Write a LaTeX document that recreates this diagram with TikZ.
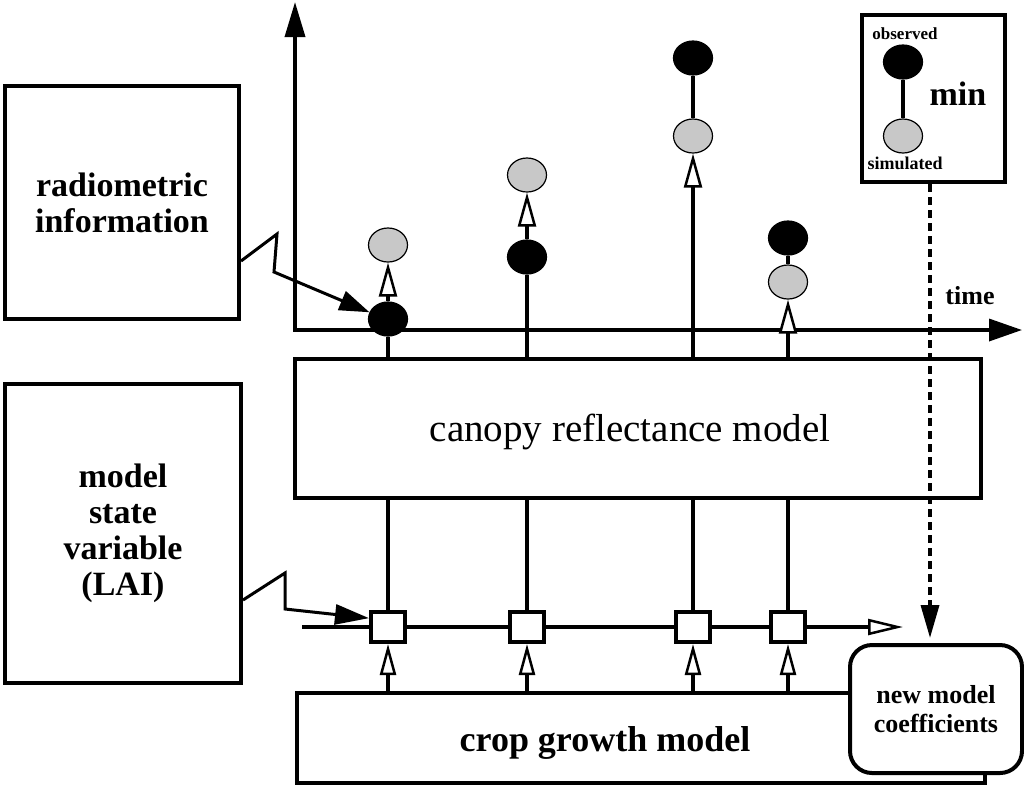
\documentclass[tikz,border=0pt]{standalone}
\usepackage{fontspec}
\setmainfont{Liberation Serif}
\usetikzlibrary{arrows.meta,shapes.geometric}
\definecolor{simgray}{RGB}{200,200,200}
\begin{document}
\begin{tikzpicture}[x=1pt,y=-1pt,
  box/.style={draw, line width=4pt, fill=white, inner sep=0pt, align=center},
  ln/.style={line width=3.5pt},
  obs/.style={ellipse, draw=black, fill=black, line width=1.2pt, minimum width=39pt, minimum height=34pt, inner sep=0pt},
  sim/.style={obs, fill=simgray},
  hol/.style={ln, -{Triangle[open, fill=white, length=34pt, width=18pt, line width=2.5pt]}},
  holsm/.style={ln, -{Triangle[open, fill=white, length=31pt, width=16pt, line width=2.5pt]}},
  sq/.style={draw, line width=4pt, fill=white, minimum width=34pt, minimum height=30pt, inner sep=0pt},
  bolt/.style={line width=3pt, line join=miter},
  lbl/.style={font=\bfseries\fontsize{34}{36}\selectfont, align=center}
]
\useasboundingbox (0,0) rectangle (1024,788);
\fill[white] (0,0) rectangle (1024,788);

% axes
\coordinate (origin) at (295,330);
\coordinate (ytip) at (295,2);
\coordinate (xtip) at (1022,330);
\draw[ln, line join=miter, {Triangle[length=35pt,width=20pt]}-{Triangle[length=33pt,width=22pt]}] (ytip) -- (origin) -- (xtip);

% main boxes
\node[box, minimum width=686pt, minimum height=139pt] (canopy) at (638,428.5) {};
\node[font=\fontsize{39}{40}\selectfont] (canopytext) at (630,432) {canopy reflectance model};
\node[box, minimum width=688pt, minimum height=90pt] (crop) at (641,738) {};
\node[font=\bfseries\fontsize{36}{38}\selectfont] (croptext) at (605,743) {crop growth model};

\node[box, lbl, minimum width=234pt, minimum height=233pt] (radio) at (122,202.5) {radiometric\\information};
\node[box, lbl, minimum width=236pt, minimum height=299pt] (lai) at (123,533.5) {model\\state\\variable\\(LAI)};

% observed / simulated points
\node[obs] (o1) at (388,319) {};
\node[sim] (s1) at (388,245) {};
\node[obs] (o2) at (527,257) {};
\node[sim] (s2) at (527,175) {};
\node[obs] (o3) at (693,58) {};
\node[sim] (s3) at (693,136) {};
\node[obs] (o4) at (788,238) {};
\node[sim] (s4) at (788,282) {};

\draw[ln] (canopy.north -| o1) -- (o1.south);
\draw[hol] (o1.north) -- (s1.south);
\draw[ln] (canopy.north -| o2) -- (o2.south);
\draw[hol] (o2.north) -- (s2.south);
\draw[hol] (canopy.north -| o3) -- (s3.south);
\draw[ln] (s3.north) -- (o3.south);
\draw[hol] (canopy.north -| o4) -- (s4.south);
\draw[ln] (s4.north) -- (o4.south);

% state variable squares
\node[sq] (q1) at (388,627) {};
\node[sq] (q2) at (527,627) {};
\node[sq] (q3) at (693,627) {};
\node[sq] (q4) at (788,627) {};

\foreach \q in {q1,q2,q3,q4}{
  \draw[ln] (canopy.south -| \q) -- (\q.north);
  \draw[holsm] (crop.north -| \q) -- (\q.south);
}
\coordinate (lstart) at (302,627);
\coordinate (lend) at (903,627);
\draw[ln] (lstart) -- (q1.west);
\draw[ln] (q1.east) -- (q2.west);
\draw[ln] (q2.east) -- (q3.west);
\draw[ln] (q3.east) -- (q4.west);
\draw[ln, -{Triangle[open, fill=white, length=35pt, width=16pt, line width=2.5pt]}] (q4.east) -- (lend);

% new model coefficients
\node[box, rounded corners=22pt, minimum width=172pt, minimum height=128pt, font=\bfseries\fontsize{26}{29}\selectfont] (coef) at (936,709) {new model\\coefficients};

% min box
\node[box, minimum width=143pt, minimum height=167pt] (minbox) at (933.5,98.5) {};
\node[obs] (mo) at (903,62) {};
\node[sim] (ms) at (903,136) {};
\draw[ln] (mo.south) -- (ms.north);
\node[font=\bfseries\fontsize{17}{18}\selectfont] (tobs) at (905,34) {observed};
\node[font=\bfseries\fontsize{34}{36}\selectfont] (tmin) at (958,94) {min};
\node[font=\bfseries\fontsize{18}{19}\selectfont] (tsim) at (905,163) {simulated};

\node[font=\bfseries\fontsize{26}{28}\selectfont] (ttime) at (970,296) {time};

% lightning connectors
\draw[bolt, -{Triangle[length=30pt,width=20pt]}] ([yshift=-58.5pt]radio.east) -- (277,234) -- (274,272) -- (o1.160);
\draw[bolt, -{Triangle[length=34pt,width=20pt]}] ([yshift=-66.5pt]lai.east) -- (285,573) -- (285,609) -- (q1.155);

% dashed feedback arrow
\coordinate (dtop) at ([xshift=-3.5pt]minbox.south);
\coordinate (dbot) at ([yshift=5pt]dtop |- coef.north);
\draw[ln, dash pattern=on 8pt off 5pt, -{Triangle[length=33pt,width=18pt]}] (dtop) -- (dbot);
\end{tikzpicture}
\end{document}
